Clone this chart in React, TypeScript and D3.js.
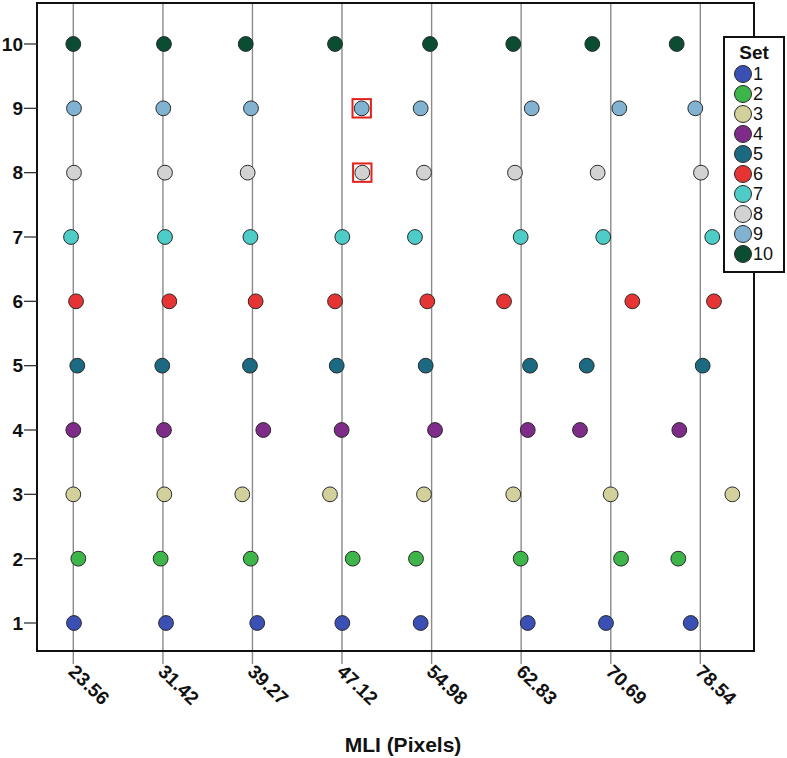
import React from "react";
import * as d3 from "d3";

const xTickValues = [23.56, 31.42, 39.27, 47.12, 54.98, 62.83, 70.69, 78.54];
const xTickLabels = ["23.56", "31.42", "39.27", "47.12", "54.98", "62.83", "70.69", "78.54"];
const yTicks = [1, 2, 3, 4, 5, 6, 7, 8, 9, 10];
const setNames = ["1", "2", "3", "4", "5", "6", "7", "8", "9", "10"];
const setColors = ["#3a50b5", "#3db54a", "#d3d19b", "#7f2b8a", "#1b6a82", "#e63434", "#4ecdc8", "#d2d2d2", "#82b2d2", "#0b4d32"];

const set1 = [23.62, 31.69, 39.69, 47.15, 54.02, 63.41, 70.27, 77.70];
const set2 = [24.0, 31.22, 39.12, 48.06, 53.61, 62.79, 71.59, 76.61];
const set3 = [23.56, 31.54, 38.38, 46.07, 54.31, 62.14, 70.68, 81.35];
const set4 = [23.56, 31.51, 40.22, 47.09, 55.28, 63.41, 67.99, 76.7];
const set5 = [23.91, 31.36, 39.05, 46.66, 54.46, 63.61, 68.58, 78.75];
const set6 = [23.8, 31.98, 39.55, 46.51, 54.6, 61.33, 72.58, 79.74];
const set7 = [23.36, 31.6, 39.09, 47.15, 53.52, 62.79, 70.03, 79.59];
const set8 = [23.62, 31.6, 38.85, 48.9, 54.31, 62.29, 69.54, 78.6];
const set9 = [23.62, 31.45, 39.14, 48.85, 54.02, 63.76, 71.44, 78.1];
const set10 = [23.56, 31.51, 38.68, 46.51, 54.84, 62.14, 69.07, 76.47];
const allSets = [set1, set2, set3, set4, set5, set6, set7, set8, set9, set10];

// highlighted points: [x, set]
const highlighted: [number, number][] = [[48.85, 9], [48.9, 8]];

export default function App() {
  const W = 787, H = 758;
  const left = 37, right = 754, top = 3, bottom = 651;
  const x = d3.scaleLinear().domain([20.377, 83.249]).range([left, right]);
  const y = d3.scaleLinear().domain([0.5648, 10.637]).range([bottom, top]);
  const font = "Arial, 'Liberation Sans', Helvetica, sans-serif";
  const r = 7.4;
  const legX = 724, legY = 37, legW = 60, legH = 235;

  return (
    <svg width={W} height={H} style={{ position: "absolute", left: 0, top: 0, background: "#fff" }} fontFamily={font}>
      <rect x={0} y={0} width={W} height={H} fill="#fff" />
      {xTickValues.map((v, i) => (
        <line key={"g" + i} x1={x(v)} x2={x(v)} y1={top} y2={bottom + 13} stroke="#8a8a8a" strokeWidth={1.4} />
      ))}
      <rect x={left} y={top} width={right - left} height={bottom - top} fill="none" stroke="#111" strokeWidth={2} />
      {yTicks.map((t) => (
        <g key={"y" + t}>
          <line x1={left - 13} x2={left} y1={y(t)} y2={y(t)} stroke="#333" strokeWidth={1.3} />
          <text x={left - 14} y={y(t)} dy="0.36em" textAnchor="end" fontSize={19} fontWeight="bold" fill="#111">{t}</text>
        </g>
      ))}
      {xTickValues.map((v, i) => (
        <text key={"xl" + i} transform={`translate(${x(v) - 6},${bottom + 22}) rotate(44)`} fontSize={19} fontWeight="bold" fill="#111">{xTickLabels[i]}</text>
      ))}
      <text x={403} y={752} textAnchor="middle" fontSize={21} fontWeight="bold" fill="#111">MLI (Pixels)</text>
      {allSets.map((arr, si) =>
        arr.map((v, j) => (
          <circle key={`p${si}-${j}`} cx={x(v)} cy={y(si + 1)} r={r} fill={setColors[si]} stroke="#2a2a2a" strokeWidth={1} />
        ))
      )}
      {highlighted.map(([v, s], i) => (
        <rect key={"h" + i} x={x(v) - 9.2} y={y(s) - 9.2} width={18.4} height={18.4} fill="none" stroke="#e3201b" strokeWidth={2} />
      ))}
      <rect x={legX} y={legY} width={legW} height={legH} fill="#fff" stroke="#111" strokeWidth={2} />
      <text x={legX + legW / 2} y={legY + 22} textAnchor="middle" fontSize={19} fontWeight="bold" fill="#111">Set</text>
      {setNames.map((n, i) => (
        <g key={"l" + i}>
          <circle cx={legX + 19} cy={legY + 37 + i * 20} r={8.5} fill={setColors[i]} stroke="#2a2a2a" strokeWidth={1} />
          <text x={legX + 29} y={legY + 37 + i * 20} dy="0.36em" fontSize={18} fill="#111">{n}</text>
        </g>
      ))}
    </svg>
  );
}
